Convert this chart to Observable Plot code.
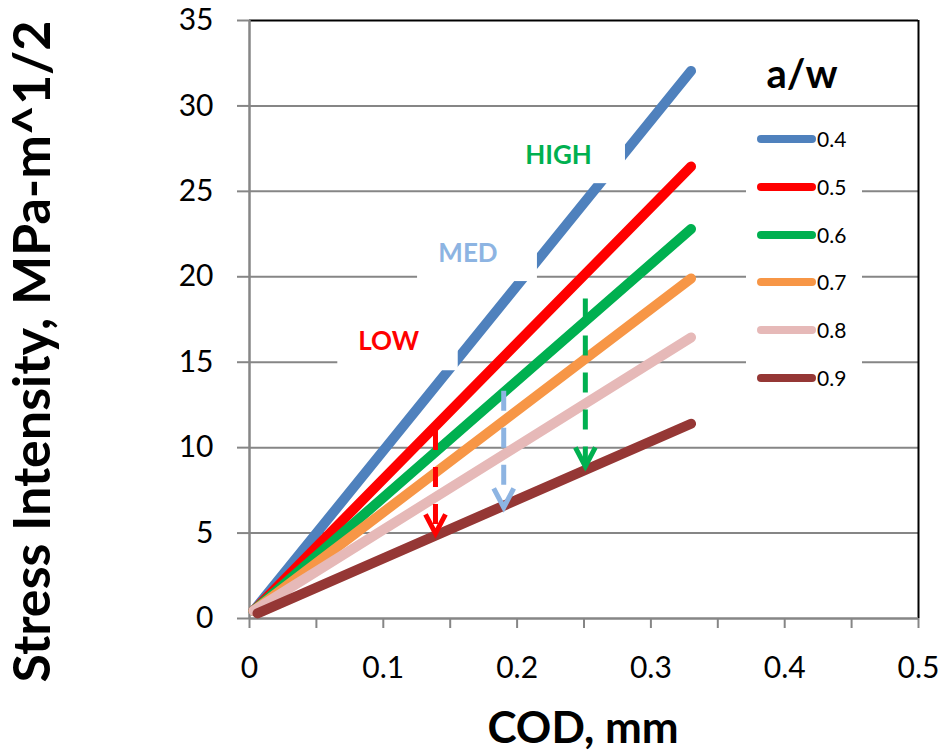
<!DOCTYPE html>
<html><head><meta charset="utf-8">
<script src="https://cdn.jsdelivr.net/npm/d3@7"></script>
<script src="https://cdn.jsdelivr.net/npm/@observablehq/plot@0.6"></script>
<style>
body{margin:0;background:#fff;font-family:Lato,sans-serif}
#wrap{position:relative;width:941px;height:756px;overflow:hidden}
#legend{position:absolute;left:746px;top:112px;width:116px;height:285px;background:#fff}
.row{position:absolute;left:0;height:24px;width:116px}
.row svg{position:absolute;left:6px;top:8px}
.row span{position:absolute;left:71px;top:0;font-size:21px;line-height:24px;color:#000}
#lt{position:absolute;left:740px;top:48px;width:124px;text-align:center;font-size:40px;font-weight:bold;line-height:50px}
</style></head><body><div id="wrap"></div>
<script>
// a/w series
const series = ["0.4", "0.5", "0.6", "0.7", "0.8", "0.9"];
const colors = ["#4F81BD", "#FF0000", "#00B050", "#F79646", "#E6B9B8", "#953735"];
const codStart = [0.003, 0.003, 0.003, 0.003, 0.003, 0.006];
const kStart = [0.45, 0.45, 0.45, 0.45, 0.45, 0.3];
const codEnd = [0.33, 0.33, 0.33, 0.33, 0.33, 0.33];
const kEnd = [32.05, 26.45, 22.8, 19.9, 16.45, 11.4];

// axes
const yTicks = [0, 5, 10, 15, 20, 25, 30, 35];
const xMinorTicks = [0, 0.05, 0.1, 0.15, 0.2, 0.25, 0.3, 0.35, 0.4, 0.45, 0.5];
const xTickLabels = [0, 0.1, 0.2, 0.3, 0.4, 0.5];
const xTitle = "COD, mm";
const yTitle = "Stress Intensity, MPa-m^1/2";
const legendTitle = "a/w";

// annotations
const levels = ["LOW", "MED", "HIGH"];
const levelColors = ["#FF0000", "#8DB4E2", "#00B050"];
const labelCod = [0.104, 0.1633, 0.231];
const labelK = [16.2, 21.36, 27.06];
const boxCod1 = [0.066, 0.1256, 0.195];
const boxCod2 = [0.156, 0.2152, 0.281];
const boxK1 = [14.5, 19.72, 25.45];
const boxK2 = [17.7, 22.4, 28.3];
const arrowCod = [0.139, 0.190, 0.251];
const arrowTop = [11.0, 13.3, 18.7];
const arrowTip = [4.98, 6.5, 8.9];

const gray = "#868686";
const arrowHead = {draw(ctx) { ctx.moveTo(-10, -19); ctx.lineTo(0, 0); ctx.lineTo(10, -19); }};

const lineMarks = series.map((s, i) => Plot.line(
  [{cod: codStart[i], k: kStart[i]}, {cod: codEnd[i], k: kEnd[i]}],
  {x: "cod", y: "k", stroke: colors[i], strokeWidth: 10, strokeLinecap: "round"}));

const annMarks = levels.flatMap((lv, i) => [
  Plot.rect([{c1: boxCod1[i], c2: boxCod2[i], k1: boxK1[i], k2: boxK2[i]}],
    {x1: "c1", x2: "c2", y1: "k1", y2: "k2", fill: "white"}),
  Plot.text([{cod: labelCod[i], k: labelK[i], t: lv}],
    {x: "cod", y: "k", text: "t", fill: levelColors[i], fontSize: 26, fontWeight: "bold"})
]);

const arrowMarks = levels.flatMap((lv, i) => [
  Plot.ruleX([{cod: arrowCod[i], top: arrowTop[i], tip: arrowTip[i]}],
    {x: "cod", y1: "top", y2: "tip", stroke: levelColors[i], strokeWidth: 5, strokeDasharray: "20 17"}),
  Plot.dot([{cod: arrowCod[i], tip: arrowTip[i]}],
    {x: "cod", y: "tip", symbol: arrowHead, stroke: levelColors[i], fill: "none", strokeWidth: 5, strokeLinejoin: "miter"})
]);

const chart = Plot.plot({
  width: 941, height: 756,
  marginLeft: 249, marginTop: 20, marginRight: 23, marginBottom: 138,
  style: {fontFamily: "Lato, sans-serif", background: "white", color: "black", overflow: "visible"},
  x: {domain: [0, 0.5], axis: null},
  y: {domain: [0, 35], axis: null},
  marks: [
    Plot.ruleY(yTicks.filter(d => d > 0 && d < 35), {stroke: gray, strokeWidth: 2}),
    Plot.axisY({ticks: yTicks, tickSize: 12, tickPadding: 24, stroke: gray, strokeWidth: 2, fontSize: 30, tickFormat: d => String(d)}),
    Plot.axisX({ticks: xMinorTicks, tickSize: 10, stroke: gray, strokeWidth: 2, tickFormat: () => ""}),
    Plot.axisX({ticks: xTickLabels, tickSize: 0, tickPadding: 38, fontSize: 30, tickFormat: d => d === 0 ? "0" : d3.format(".1f")(d)}),
    Plot.ruleY([35], {stroke: "black", strokeWidth: 2}),
    Plot.ruleX([0.5], {stroke: "black", strokeWidth: 2}),
    Plot.ruleY([0], {stroke: gray, strokeWidth: 2.5}),
    Plot.ruleX([0], {y1: 0, y2: 35, stroke: gray, strokeWidth: 2.5}),
    ...lineMarks,
    ...annMarks,
    ...arrowMarks,
    Plot.text([yTitle], {text: d => d, frameAnchor: "left", textAnchor: "middle", dx: -216, dy: 32, rotate: -90, fontSize: 52, fontWeight: "bold"}),
    Plot.text([xTitle], {text: d => d, frameAnchor: "bottom", dx: -1, dy: 124, fontSize: 44, fontWeight: "bold"})
  ]
});
const wrap = document.getElementById("wrap");
wrap.appendChild(chart);

const lg = document.createElement("div");
lg.id = "legend";
series.forEach((s, i) => {
  const row = document.createElement("div");
  row.className = "row";
  row.style.top = (15 + i * 47.8) + "px";
  row.innerHTML = `<svg width="64" height="10"><line x1="9" y1="4" x2="60" y2="4" stroke="${colors[i]}" stroke-width="8" stroke-linecap="round"/></svg><span>${s}</span>`;
  lg.appendChild(row);
});
wrap.appendChild(lg);
const lt = document.createElement("div");
lt.id = "lt";
lt.textContent = legendTitle;
wrap.appendChild(lt);
</script></body></html>
